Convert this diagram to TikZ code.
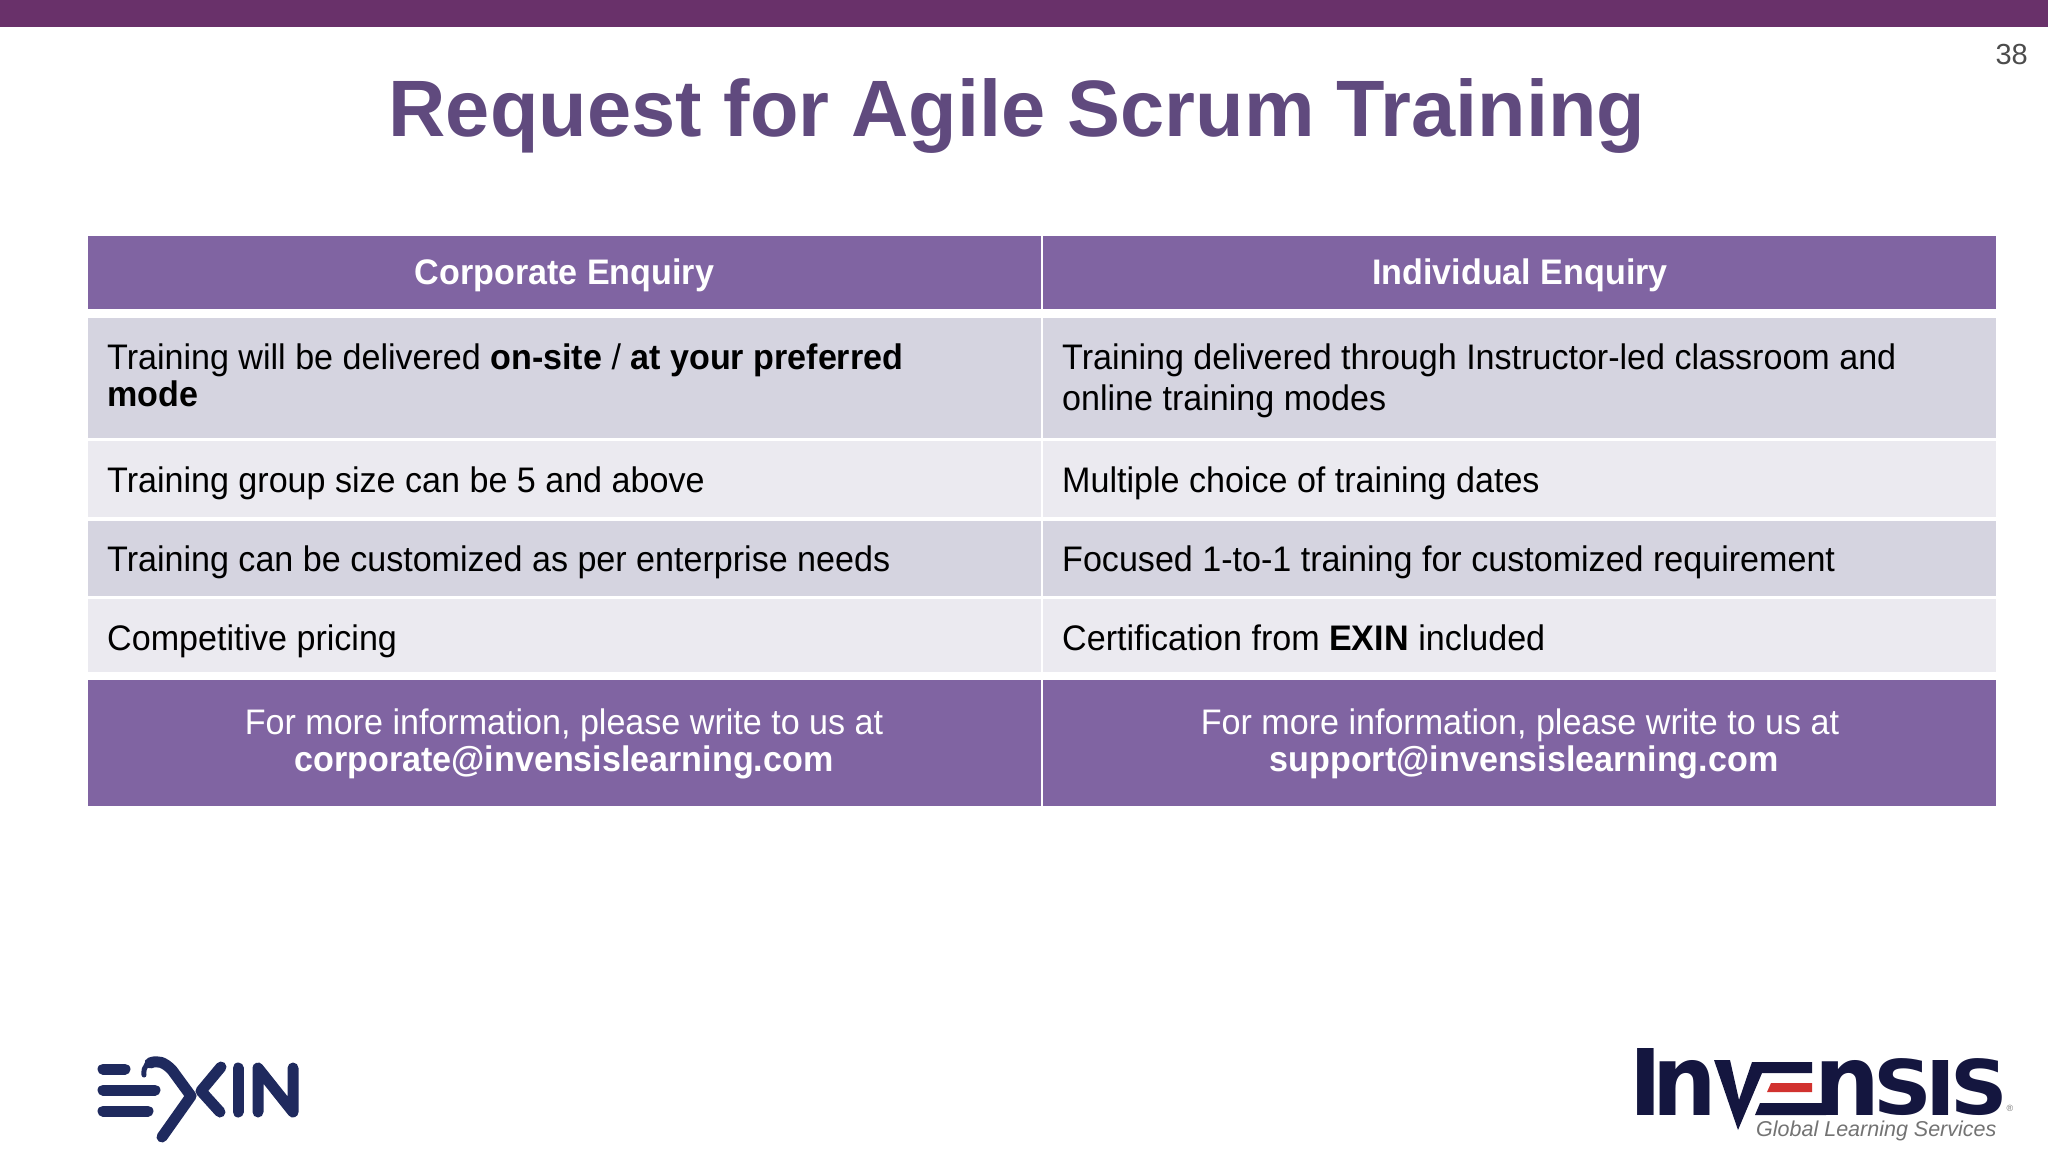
\documentclass[tikz,border=0pt]{standalone}
\usepackage{fontspec}
\usepackage{graphicx}
\setmainfont[FakeStretch=0.96]{Liberation Sans}
\newfontfamily\titlefont[FakeStretch=0.992]{Liberation Sans}
\newfontfamily\plainfont{Liberation Sans}
\newfontfamily\logofont{DejaVu Sans}
\definecolor{topbar}{HTML}{69316A}
\definecolor{titlec}{HTML}{604A7E}
\definecolor{headc}{HTML}{8064A2}
\definecolor{rowa}{HTML}{D5D4E0}
\definecolor{rowb}{HTML}{EBEAF0}
\definecolor{logoc}{HTML}{1F2A5E}
\definecolor{invc}{HTML}{14163F}
\definecolor{redc}{HTML}{D1322F}
\newcommand{\logoI}{\kern-.095em I\kern-.095em}
\newcommand{\logoN}{\kern-.08em n\kern-.08em}
\newcommand{\logoS}{\kern-.06em S\kern-.06em}
\tikzset{
 cell/.style={inner sep=0pt,outer sep=0pt,anchor=north west},
 head/.style={cell,fill=headc},
 oddrow/.style={cell,fill=rowa},
 evenrow/.style={cell,fill=rowb},
 body/.style={inner sep=0pt,anchor=base west,text=black,font=\fontsize{35.5}{40}\selectfont},
 headtxt/.style={inner sep=0pt,anchor=base,text=white,font=\fontsize{35.5}{40}\selectfont\bfseries},
 foottxt/.style={inner sep=0pt,anchor=base,text=white,font=\fontsize{35.5}{40}\selectfont},
 exinbar/.style={draw=logoc,line width=11pt,line cap=round,line join=round},
 invtxt/.style={inner sep=0pt,outer sep=0pt,anchor=south west,text=invc,font=\logofont\bfseries},
}
\begin{document}
\begin{tikzpicture}[x=1pt,y=-1pt]
\useasboundingbox (0,0) rectangle (2048,1152);
\fill[white] (0,0) rectangle (2048,1152);
\node[cell,fill=topbar,minimum width=2048pt,minimum height=27pt] (bar) at (0,0) {};
\node[inner sep=0pt,anchor=base,text=titlec,font=\fontsize{80}{90}\titlefont\bfseries] (title) at (1017,136.5) {Request for Agile Scrum Training};
\node[inner sep=0pt,anchor=base east,text=black!70,font=\fontsize{29}{32}\plainfont] (page) at (2028,64) {38};
% header
\node[head,minimum width=953pt,minimum height=73pt] (h1) at (87.5,236) {};
\node[head,minimum width=953pt,minimum height=73pt] (h2) at (1042.5,236) {};
\node[headtxt] (h1t) at (564.5,284) {Corporate Enquiry};
\node[headtxt] (h2t) at (1520,284) {Individual Enquiry};
% row 1
\node[oddrow,minimum width=953pt,minimum height=120pt] (a1) at (87.5,318) {};
\node[oddrow,minimum width=953pt,minimum height=120pt] (b1) at (1042.5,318) {};
\node[body] (a1t) at (107,369.5) {Training will be delivered \textbf{on-site} / \textbf{at your preferred}};
\node[body] (a1u) at (107,406.5) {\textbf{mode}};
\node[body] (b1t) at (1062,369.5) {Training delivered through Instructor-led classroom and};
\node[body] (b1u) at (1062,410.5) {online training modes};
% row 2
\node[evenrow,minimum width=953pt,minimum height=76pt] (a2) at (87.5,441) {};
\node[evenrow,minimum width=953pt,minimum height=76pt] (b2) at (1042.5,441) {};
\node[body] (a2t) at (107,492.5) {Training group size can be 5 and above};
\node[body] (b2t) at (1062,492.5) {Multiple choice of training dates};
% row 3
\node[oddrow,minimum width=953pt,minimum height=75pt] (a3) at (87.5,520.5) {};
\node[oddrow,minimum width=953pt,minimum height=75pt] (b3) at (1042.5,520.5) {};
\node[body] (a3t) at (107,571) {Training can be customized as per enterprise needs};
\node[body] (b3t) at (1062,571) {Focused 1-to-1 training for customized requirement};
% row 4
\node[evenrow,minimum width=953pt,minimum height=73pt] (a4) at (87.5,599) {};
\node[evenrow,minimum width=953pt,minimum height=73pt] (b4) at (1042.5,599) {};
\node[body] (a4t) at (107,650) {Competitive pricing};
\node[body] (b4t) at (1062,650) {Certification from \textbf{EXIN} included};
% footer
\node[head,minimum width=953pt,minimum height=126pt] (f1) at (87.5,680) {};
\node[head,minimum width=953pt,minimum height=126pt] (f2) at (1042.5,680) {};
\node[foottxt] (f1t) at (564,734) {For more information, please write to us at};
\node[foottxt] (f1u) at (564,771) {\textbf{corporate@invensislearning.com}};
\node[foottxt] (f2t) at (1520,734) {For more information, please write to us at};
\node[foottxt] (f2u) at (1524,771) {\textbf{support@invensislearning.com}};
% EXIN logo
\draw[exinbar] (103,1069) -- (125,1069);
\draw[exinbar] (103,1090) -- (155,1090);
\draw[exinbar] (103,1111) -- (148,1111);
\draw[draw=logoc,line width=5pt,line cap=round] (144,1075) .. controls (143,1066) and (148,1062) .. (155,1060);
\draw[exinbar] (150,1063) .. controls (158,1060) and (164,1062) .. (172,1070) -- (191,1096) -- (162,1137);
\draw[exinbar] (221,1067) -- (201,1091) -- (220,1112);
\draw[exinbar] (238,1068) -- (238,1112);
\draw[exinbar] (258,1112) -- (258,1068) -- (293,1112) -- (293,1068);
% Invensis logo
\node[invtxt] (invI) at (1638,1115) {\resizebox*{16pt}{67pt}{\logoI}};
\node[invtxt] (invn) at (1660,1115) {\resizebox*{50pt}{55pt}{\logoN}};
\fill[invc] (1714,1060) -- (1730,1060) -- (1739,1100) -- (1752,1062) -- (1812,1062) -- (1812,1073) -- (1762,1073) -- (1738,1130) -- cycle;
\fill[redc] (1771,1083) -- (1812,1083) -- (1812,1092) -- (1767,1092) -- cycle;
\fill[invc] (1760,1103) -- (1826,1103) -- (1826,1115) -- (1755,1115) -- cycle;
\node[invtxt] (invn2) at (1822,1115) {\resizebox*{51pt}{55pt}{\logoN}};
\node[invtxt] (invs) at (1878,1116) {\resizebox*{49pt}{57pt}{\logoS}};
\node[invtxt] (invi) at (1933,1115) {\resizebox*{15pt}{55pt}{\logoI}};
\node[invtxt] (invt) at (1955,1116) {\resizebox*{48pt}{57pt}{\logoS}};
\node[inner sep=0pt,anchor=center,text=black!55,font=\fontsize{9}{10}\plainfont] (invr) at (2010,1108) {®};
\node[inner sep=0pt,anchor=base west,text=black!55,font=\fontsize{21.5}{24}\plainfont\itshape] (invg) at (1756,1136) {Global Learning Services};
\end{tikzpicture}
\end{document}
